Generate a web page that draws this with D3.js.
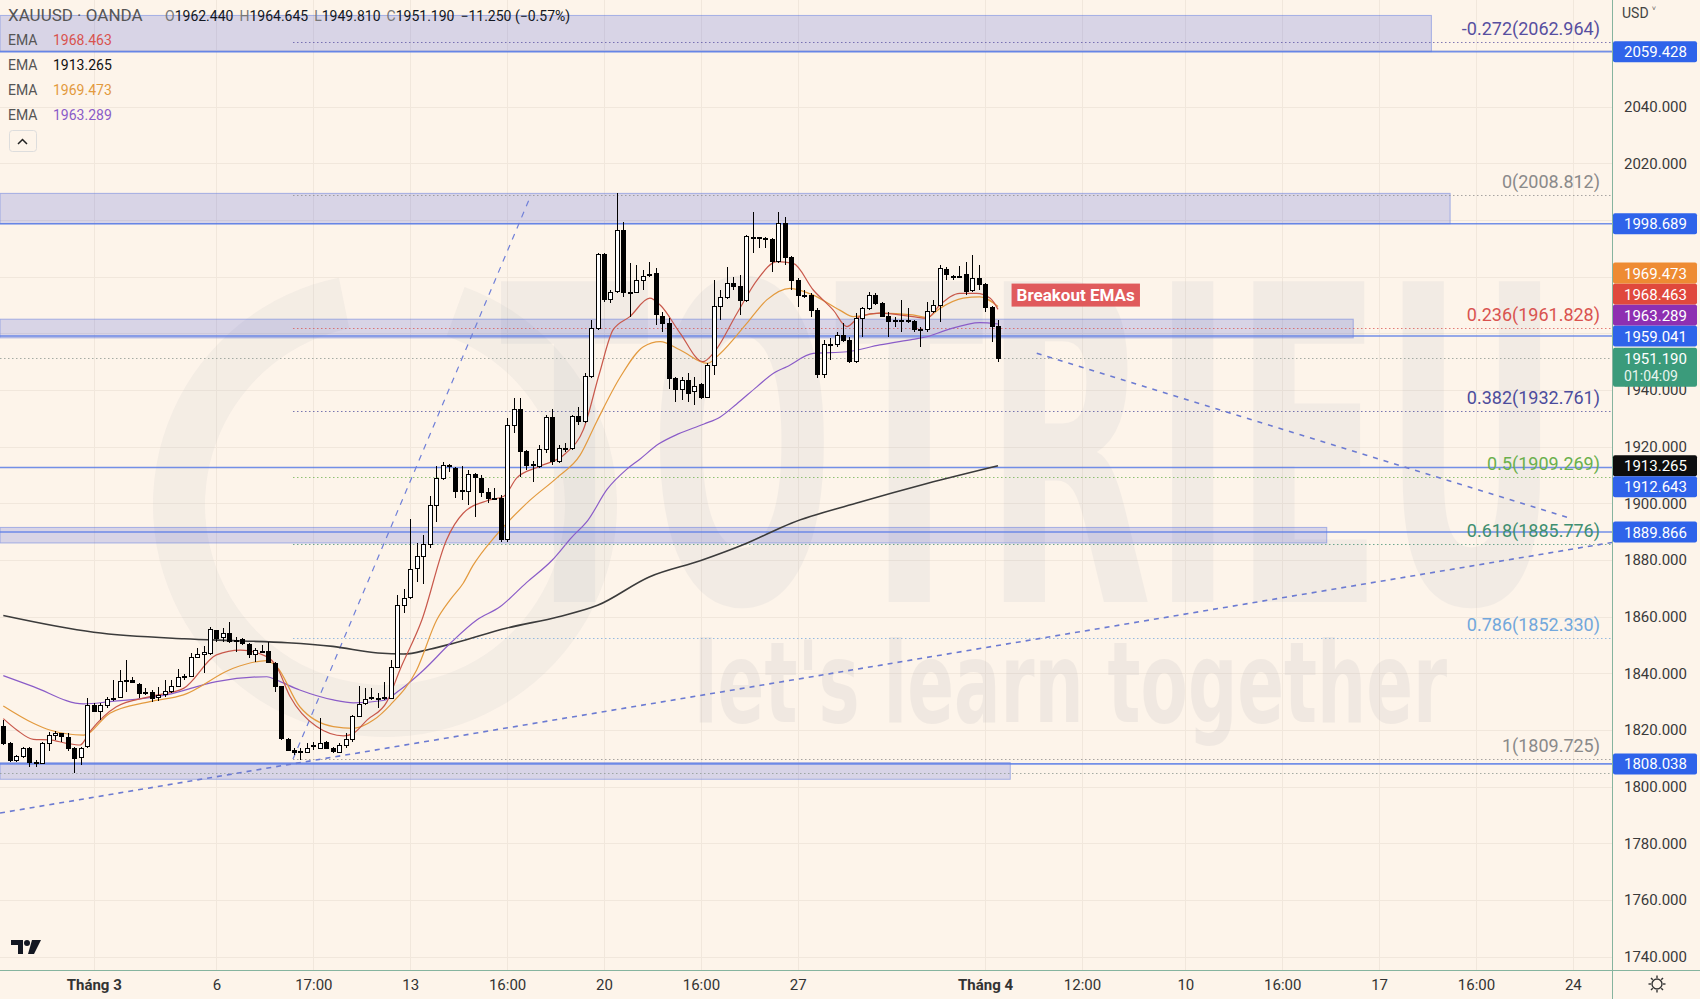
<!DOCTYPE html>
<html><head><meta charset="utf-8">
<script src="https://cdn.jsdelivr.net/npm/d3@7"></script>
<style>
html,body{margin:0;padding:0;background:#fdf4ea;overflow:hidden}
svg{display:block}
text{font-family:Roboto,"Noto Sans",sans-serif}
</style></head><body>
<svg id="c" width="1700" height="999"></svg>
<script>
// ---------------- DATA ----------------
const symbolName = "XAUUSD · OANDA";
const legendKeys = ["O","H","L","C"];
const legendVals = ["1962.440","1964.645","1949.810","1951.190"];
const legendChange = "−11.250 (−0.57%)";

const opens = [1821.2,1815.3,1809.4,1810.6,1813.5,1808.5,1808.3,1815.3,1818.2,1818.6,1817.4,1813.3,1810.4,1814.1,1828.8,1826.5,1828.8,1830.8,1831.5,1837.1,
1837.3,1836.2,1833.3,1833.2,1831.5,1832.4,1833.5,1835.5,1838.5,1838.8,1845.5,1846.8,1847.1,1855.1,1852.7,1854.1,1851.5,1851.8,1850.2,1846.8,
1847.6,1847.6,1843.5,1835.3,1816.8,1812.9,1812.4,1812.0,1814.6,1813.5,1815.5,1813.5,1812.0,1814.7,1816.7,1824.9,1829.2,1831.2,1831.2,1831.2,
1831.2,1842.1,1864.1,1866.8,1877.1,1881.2,1885.3,1899.4,1908.8,1913.0,1912.4,1904.3,1904.3,1910.3,1908.6,1903.9,1901.6,1901.8,1887.1,1927.6,
1933.2,1918.2,1913.3,1912.9,1919.1,1930.4,1914.7,1919.3,1919.4,1930.6,1928.8,1944.7,1961.8,1988.0,1972.1,1974.7,1996.2,1974.4,1974.4,1978.8,
1980.5,1981.2,1966.1,1963.5,1944.1,1940.2,1943.5,1939.3,1941.8,1937.4,1948.8,1969.6,1972.7,1977.6,1976.5,1971.5,1993.9,1993.7,1993.5,1993.2,
1985.3,1998.8,1986.8,1978.8,1973.5,1973.5,1968.2,1945.3,1956.0,1956.2,1959.1,1957.6,1950.0,1965.3,1968.8,1973.5,1970.6,1966.1,1964.5,1964.7,
1964.6,1964.1,1961.2,1961.2,1967.6,1970.0,1982.6,1980.1,1980.0,1980.6,1975.1,1979.4,1977.1,1969.2,1962.44];
const highs = [1823.5,1815.8,1811.2,1814.1,1814.0,1809.4,1815.9,1819.4,1819.8,1818.8,1818.8,1814.1,1814.1,1831.2,1829.4,1829.4,1831.8,1837.6,1841.2,1844.7,
1838.6,1836.5,1834.7,1834.1,1835.3,1837.6,1837.6,1841.4,1839.8,1847.1,1848.8,1849.6,1856.5,1855.3,1855.9,1858.2,1852.9,1852.4,1850.6,1848.8,
1850.0,1851.2,1844.1,1835.5,1817.1,1813.5,1813.5,1815.3,1815.9,1824.1,1816.2,1814.1,1815.3,1818.8,1825.3,1835.5,1834.7,1834.7,1833.2,1837.1,
1844.7,1867.6,1869.6,1894.4,1885.9,1888.8,1902.6,1913.2,1914.7,1913.9,1912.7,1913.2,1911.8,1910.8,1910.0,1905.3,1905.3,1902.9,1930.0,1937.1,
1937.1,1918.8,1915.0,1920.6,1931.2,1933.2,1920.6,1921.2,1931.2,1934.1,1946.1,1964.7,1988.5,1988.5,1975.3,2009.6,1999.4,1984.7,1984.1,1982.4,
1985.3,1982.9,1967.6,1965.3,1944.7,1944.7,1945.9,1944.7,1942.4,1949.4,1978.8,1975.3,1983.3,1980.0,1980.6,1994.7,2002.9,1994.1,1994.1,1993.5,
2002.9,2001.2,1987.3,1979.4,1975.3,1974.1,1968.8,1957.6,1958.2,1960.6,1963.5,1958.8,1967.1,1969.4,1974.7,1974.1,1971.2,1967.6,1965.9,1971.8,
1968.8,1964.7,1962.4,1971.2,1971.8,1984.1,1983.3,1980.6,1983.8,1985.3,1987.6,1984.1,1977.6,1969.6,1964.645];
const lows = [1814.8,1808.8,1808.8,1810.0,1806.8,1807.1,1808.2,1812.7,1816.5,1815.9,1812.7,1804.7,1807.6,1813.5,1826.3,1823.5,1827.6,1830.4,1831.2,1833.5,
1836.5,1831.2,1832.4,1830.0,1830.4,1831.8,1832.9,1835.3,1837.6,1838.6,1845.3,1840.0,1846.5,1851.2,1851.2,1850.6,1847.7,1850.0,1845.3,1844.1,
1847.1,1843.5,1833.5,1816.5,1812.7,1811.2,1809.4,1811.8,1812.9,1813.2,1813.2,1811.8,1811.8,1813.5,1815.9,1824.7,1828.8,1830.6,1827.6,1830.6,
1830.8,1841.8,1861.2,1866.3,1872.4,1871.5,1884.1,1893.5,1908.2,1911.2,1901.8,1901.0,1899.4,1895.3,1902.4,1900.0,1901.2,1886.5,1886.5,1924.7,
1909.4,1911.8,1907.6,1912.4,1917.6,1913.5,1914.1,1918.2,1918.8,1927.6,1928.2,1944.1,1961.2,1971.2,1970.6,1974.1,1972.9,1965.9,1974.1,1975.3,
1980.0,1962.9,1960.6,1940.2,1935.9,1936.5,1935.9,1934.7,1936.8,1937.1,1945.3,1964.7,1972.0,1975.3,1966.5,1971.2,1988.2,1990.0,1990.0,1981.8,
1984.7,1984.1,1975.3,1969.4,1972.4,1965.9,1944.1,1944.1,1950.6,1955.3,1957.1,1949.6,1949.4,1958.8,1968.2,1970.0,1965.9,1958.8,1962.4,1960.6,
1963.5,1960.6,1955.3,1960.6,1967.1,1964.1,1978.8,1978.8,1979.4,1973.5,1974.7,1975.3,1967.6,1957.1,1949.81];
const closes = [1815.3,1809.4,1810.6,1813.5,1808.5,1808.3,1815.3,1818.2,1818.6,1817.6,1813.5,1810.0,1813.5,1828.8,1826.5,1828.8,1830.8,1831.2,1837.1,1837.3,
1836.8,1832.9,1832.9,1831.2,1832.0,1833.5,1835.5,1838.5,1839.0,1845.5,1846.8,1847.3,1855.3,1852.4,1854.1,1851.2,1851.4,1850.4,1846.5,1848.0,
1847.7,1843.8,1835.3,1817.1,1812.9,1812.0,1812.3,1813.5,1814.7,1815.3,1813.5,1812.4,1814.7,1816.7,1824.9,1829.1,1830.6,1831.3,1831.0,1831.5,
1842.1,1864.1,1866.5,1876.7,1881.2,1885.3,1899.4,1908.8,1913.2,1913.3,1904.3,1904.5,1910.0,1909.0,1903.9,1901.8,1901.5,1887.1,1927.6,1933.2,
1918.2,1913.3,1913.6,1919.1,1930.4,1914.7,1919.4,1919.5,1930.8,1928.8,1944.7,1961.8,1988.0,1972.1,1974.5,1996.2,1974.4,1974.3,1978.8,1980.2,
1980.9,1966.5,1963.5,1944.1,1940.2,1943.2,1938.8,1941.4,1937.4,1948.8,1969.6,1972.7,1977.6,1976.5,1971.5,1994.1,1994.0,1993.5,1993.6,1985.3,
1998.8,1986.8,1978.8,1973.5,1973.4,1968.2,1945.3,1955.9,1956.2,1959.4,1957.6,1950.0,1965.3,1968.8,1973.5,1970.6,1966.1,1964.1,1964.7,1964.5,
1964.5,1961.2,1961.1,1967.6,1970.0,1982.9,1980.6,1980.0,1980.2,1974.7,1979.4,1977.1,1969.2,1962.4,1951.19];

// EMA readings [bar index, value]
const emaRed = [[0,1824.0],[2.1,1820.0],[4.65,1816.7],[7.2,1816.5],[9.8,1815.3],[11.9,1814.7],[13.4,1819.4],[17.5,1828.2],[22.7,1831.8],[27.9,1834.7],
[33,1846.5],[36.7,1848.2],[40.8,1845.9],[42.3,1842.4],[44.4,1831.8],[48.5,1821.2],[52.7,1817.9],[54.2,1818.8],[56.3,1823.5],[59.4,1830.0],
[61.4,1841.2],[64.8,1858.8],[68.6,1887.0],[71.2,1896.5],[75,1901.0],[77.5,1902.5],[79.5,1909.0],[83,1913.0],[87,1917.5],[89.8,1926.0],
[92.3,1945.9],[94.4,1961.2],[97,1965.9],[100.1,1972.4],[101.7,1970.0],[104.8,1960.0],[108.3,1950.0],[109.9,1952.9],[113.6,1967.1],[116.7,1978.8],
[119.8,1985.3],[122.3,1984.7],[125.4,1975.3],[128.5,1968.2],[130.6,1962.4],[132.6,1965.9],[135.7,1967.1],[140.8,1965.9],[143,1965.3],[145,1970.0],
[148.1,1974.1],[150.7,1974.1],[152.8,1972.4],[154,1968.463]];
const emaOrange = [[0,1828.5],[4.65,1822.4],[7.2,1820.0],[12.4,1818.2],[16.5,1825.9],[22.7,1830.0],[27.9,1832.4],[35.6,1841.8],[40.8,1844.5],[42.3,1842.4],
[45.9,1828.2],[51.1,1821.2],[54.2,1820.6],[57.3,1823.5],[59.9,1828.8],[64,1841.2],[67.1,1858.8],[69.2,1866.0],[71.2,1871.8],[72.7,1878.0],
[76.4,1889.0],[81.6,1901.2],[85.7,1909.0],[89.3,1917.0],[91.9,1929.0],[95.5,1944.5],[99.1,1955.3],[101.7,1957.1],[104.8,1954.1],[109,1949.4],
[111,1952.9],[115.1,1963.5],[118.2,1971.8],[121.8,1975.9],[125.4,1973.5],[129.5,1968.2],[131.6,1965.9],[135.7,1967.1],[140.8,1966.5],[143,1965.6],
[145,1968.8],[148.6,1972.4],[151.2,1972.9],[154,1969.473]];
const emaPurple = [[0,1839.2],[4.65,1835.3],[12.4,1829.2],[16.5,1830.0],[25.3,1832.4],[33,1837.1],[40.8,1838.8],[42.3,1837.6],[45.9,1834.1],[51.1,1830.6],
[54.2,1829.6],[58.8,1830.4],[61.4,1834.1],[65,1841.0],[69.2,1850.6],[73.3,1858.8],[76.9,1863.5],[81,1872.0],[85,1880.0],[88,1888.0],
[90.5,1894.0],[93.5,1905.0],[96.5,1912.0],[98.5,1915.5],[101.5,1921.0],[104.5,1924.5],[108.5,1928.0],[111,1930.5],[113.5,1935.0],[116.7,1941.2],
[119.3,1946.0],[121.3,1948.2],[125.4,1952.9],[130.6,1953.5],[135.7,1955.9],[140.8,1957.9],[143,1958.8],[146.1,1961.2],[151.2,1963.8],[154,1963.289]];
const emaBlack = [[0,1860.4],[14,1854.5],[28,1852.2],[36,1851.5],[44,1850.8],[51,1849.5],[58,1847.2],[62,1846.8],[66,1848.5],[70,1850.8],
[78,1856.0],[86,1860.0],[92,1864.0],[100,1874.0],[108,1879.8],[115,1885.8],[122,1893.0],[132,1900.0],[143,1907.0],[154,1913.265]];
const emaLegendVals = ["1968.463","1913.265","1969.473","1963.289"];

const priceTicks = [2060,2040,2020,2000,1980,1960,1940,1920,1900,1880,1860,1840,1820,1800,1780,1760,1740];
const timeTicks = [14,33,48,63,78,93,108,123,152,167,183,198,213,228,243];
const timeLabels = ["Tháng 3","6","17:00","13","16:00","20","16:00","27","Tháng 4","12:00","10","16:00","17","16:00","24"];
const boldTimeLabels = ["Tháng 3","Tháng 4"];

// rectangles (price top, price bottom, end bar index)
const zoneTops = [2072.2,2009.4,1965.0,1891.5,1808.5];
const zoneBottoms = [2059.428,1998.689,1958.4,1886.0,1802.6];
const zoneEnds = [221.1,224.0,209.0,204.9,155.9];
// horizontal lines
const levelLines = [2059.428,1998.689,1959.041,1912.643,1889.866,1808.038];
const extraDotted = [1804.7];
// fibonacci
const fibRatios = ["-0.272","0","0.236","0.382","0.5","0.618","0.786","1"];
const fibPrices = [2062.964,2008.812,1961.828,1932.761,1909.269,1885.776,1852.330,1809.725];
const fibStartIdx = 44.85;
const fibEndIdx = 81.7;
// trend lines [idx, price]
const trendUp = [[-0.51,1790.7],[249.06,1886.2]];
const trendDown = [[160.0,1952.97],[242.9,1894.5]];
// label
const noteText = "Breakout EMAs";
const noteIdx = 156.1, notePrice = 1973.5;
// price tags
const lastPrice = 1951.190, countdown = "01:04:09";
const tagPrices = [1951.190,1913.265,2059.428,1998.689,1959.041,1912.643,1889.866,1808.038,1963.289,1968.463,1969.473];
const tagKinds = ["last","ema200","line","line","line","line","line","line","emaPurple","emaRed","emaOrange"];

// ---------------- STYLE ----------------
const W=1700,H=999,PW=1612,PH=970;
const BG="#fdf4ea", GRID="#f1e7dc";
const colRed="#c8584b", colOrange="#e39a3e", colPurple="#8a5cc8", colBlack="#3b3b3b";
const fibColors = ["#574fa0","#8a8a8a","#d9534f","#4c4c9c","#6ab04c","#3f8f70","#72a7dc","#8a8a8a"];
const tagColors = {last:"#3b9b7b",ema200:"#0d0d0d",line:"#2f63ea",emaPurple:"#8e2fb1",emaRed:"#e0483c",emaOrange:"#ee8b33"};

// ---------------- SCALES ----------------
const x = d3.scaleLinear().domain([-0.511,249.06]).range([0,PW]);
const y = d3.scaleLinear().domain([1735.29,2077.65]).range([PH,0]);
const svg = d3.select("#c");
svg.append("rect").attr("width",W).attr("height",H).attr("fill",BG);
svg.append("defs").append("clipPath").attr("id","pc").append("rect").attr("width",PW).attr("height",PH);
const plot = svg.append("g").attr("clip-path","url(#pc)");
const cr = v => Math.round(v)+0.5;

// grid
plot.append("g").selectAll("line").data(priceTicks).join("line")
  .attr("x1",0).attr("x2",PW).attr("y1",d=>cr(y(d))).attr("y2",d=>cr(y(d))).attr("stroke",GRID);
plot.append("g").selectAll("line").data(timeTicks).join("line")
  .attr("y1",0).attr("y2",PH).attr("x1",d=>cr(x(d))).attr("x2",d=>cr(x(d))).attr("stroke",GRID);

// watermark
const wm = plot.append("g").attr("pointer-events","none");
wm.append("path").attr("d",d3.arc()({innerRadius:180,outerRadius:232,startAngle:0.35,endAngle:2*Math.PI-0.2}))
  .attr("transform","translate(385,505)").attr("fill","#9aa3b5").attr("opacity",0.09);
wm.append("text").attr("x",500).attr("y",602).attr("textLength",1060).attr("lengthAdjust","spacingAndGlyphs")
  .attr("font-size",440).attr("font-weight","bold").style("font-family","'DejaVu Sans Condensed','Liberation Sans Narrow',sans-serif")
  .attr("fill","#9aa3b5").attr("opacity",0.1).text("TOTRIEU");
wm.append("text").attr("x",694).attr("y",722).attr("textLength",753).attr("lengthAdjust","spacingAndGlyphs")
  .attr("font-size",112).attr("font-weight","bold").style("font-family","'Liberation Sans Narrow','DejaVu Sans Condensed',sans-serif")
  .attr("fill","#9a9aa5").attr("opacity",0.12).text("let's learn together");

// zones
plot.append("g").selectAll("rect").data(zoneTops).join("rect")
  .attr("x",x(-0.511)).attr("y",(d)=>y(d)).attr("width",(d,i)=>x(zoneEnds[i])-x(-0.511))
  .attr("height",(d,i)=>y(zoneBottoms[i])-y(d))
  .attr("fill","rgba(70,85,215,0.2)").attr("stroke","rgba(80,110,225,0.45)").attr("stroke-width",1);

// fib dotted lines
plot.append("g").selectAll("line").data(fibPrices).join("line")
  .attr("x1",x(fibStartIdx)).attr("x2",PW).attr("y1",d=>cr(y(d))).attr("y2",d=>cr(y(d)))
  .attr("stroke",(d,i)=>fibColors[i]).attr("stroke-opacity",0.75).attr("stroke-dasharray","1.5,2.5");
// extra dotted
plot.append("g").selectAll("line").data(extraDotted.concat([lastPrice])).join("line")
  .attr("x1",0).attr("x2",PW).attr("y1",d=>cr(y(d))).attr("y2",d=>cr(y(d)))
  .attr("stroke","#8f9a92").attr("stroke-opacity",0.8).attr("stroke-dasharray","1.5,2.5");
// solid lines
plot.append("g").selectAll("line").data(levelLines).join("line")
  .attr("x1",0).attr("x2",PW).attr("y1",d=>y(d)).attr("y2",d=>y(d))
  .attr("stroke","#5a7de6").attr("stroke-opacity",0.85).attr("stroke-width",1.6);
// fib labels
svg.append("g").selectAll("text").data(fibPrices).join("text")
  .attr("x",1600).attr("y",d=>y(d)-7).attr("text-anchor","end").attr("font-size",18)
  .attr("fill",(d,i)=>fibColors[i]).text((d,i)=>fibRatios[i]+"("+d.toFixed(3)+")");

// trend lines
const seg = d3.line().x(d=>x(d[0])).y(d=>y(d[1]));
plot.append("path").attr("d",seg([[fibStartIdx,fibPrices[7]],[fibEndIdx,fibPrices[1]]]))
  .attr("stroke","#6f7fd8").attr("stroke-width",1.2).attr("fill","none").attr("stroke-dasharray","6,6");
plot.append("path").attr("d",seg(trendUp))
  .attr("stroke","#6c7bd2").attr("stroke-width",1.6).attr("fill","none").attr("stroke-dasharray","5,5");
plot.append("path").attr("d",seg(trendDown))
  .attr("stroke","#6c7bd2").attr("stroke-width",1.6).attr("fill","none").attr("stroke-dasharray","5,6");

// EMAs
const emaLine = d3.line().x(d=>x(d[0])).y(d=>y(d[1])).curve(d3.curveMonotoneX);
[[emaBlack,colBlack,1.6],[emaPurple,colPurple,1.2],[emaOrange,colOrange,1.2],[emaRed,colRed,1.2]].forEach(([data,c,w])=>{
  plot.append("path").attr("d",emaLine(data)).attr("fill","none").attr("stroke",c).attr("stroke-width",w);
});

// candles
const candles = opens.map((o,i)=>({i,o,h:highs[i],l:lows[i],c:closes[i]}));
const cg = plot.append("g").attr("shape-rendering","crispEdges");
cg.selectAll("line").data(candles).join("line")
  .attr("x1",d=>Math.round(x(d.i))+0.5).attr("x2",d=>Math.round(x(d.i))+0.5)
  .attr("y1",d=>y(d.h)).attr("y2",d=>y(d.l)).attr("stroke","#000").attr("stroke-width",1);
cg.selectAll("rect").data(candles).join("rect")
  .attr("x",d=>Math.round(x(d.i))-1.5).attr("width",4)
  .attr("y",d=>y(Math.max(d.o,d.c))).attr("height",d=>Math.max(1,Math.abs(y(d.o)-y(d.c))))
  .attr("fill",d=>d.c>=d.o?"#fff":"#000").attr("stroke","#000").attr("stroke-width",1);

// note label
const ng = svg.append("g");
const nt = ng.append("text").attr("x",x(noteIdx)+5).attr("y",y(notePrice)+6).attr("font-size",17)
  .attr("font-weight","bold").attr("fill","#fff").text(noteText);
const nb = nt.node().getBBox();
ng.insert("rect","text").attr("x",x(noteIdx)).attr("y",y(notePrice)-11.5).attr("width",nb.width+10).attr("height",23)
  .attr("fill","#de5254").attr("opacity",0.95);

// axes frame
svg.append("line").attr("x1",PW+0.5).attr("x2",PW+0.5).attr("y1",0).attr("y2",H).attr("stroke","#86b49f");
svg.append("line").attr("x1",0).attr("x2",W).attr("y1",PH+0.5).attr("y2",PH+0.5).attr("stroke","#86b49f");

// tags with collision avoidance
const tags = tagPrices.map((p,i)=>({price:p,kind:tagKinds[i]}));
const placed=[];
tags.forEach(t=>{
  t.ty=y(t.price); t.h = t.kind==="last"?39:21; t.top=t.ty-10.5;
  let g=0,moved=true;
  while(moved && g++<30){
    moved=false;
    for(const p of placed){
      if(t.top < p.top+p.h-0.01 && t.top+t.h > p.top+0.01){
        t.top = t.ty < p.ty ? p.top - t.h : p.top + p.h; moved=true;
      }
    }
  }
  placed.push(t);
});

// y axis
const yAxis = d3.axisRight(y).tickValues(priceTicks).tickFormat(d3.format(".3f")).tickSize(0).tickPadding(12);
const ya = svg.append("g").attr("transform",`translate(${PW},0)`).call(yAxis);
ya.select(".domain").remove();
ya.selectAll("text").attr("font-size",15).attr("fill","#3a3a3a").style("font-family","Roboto,'Noto Sans',sans-serif");
ya.selectAll(".tick").filter(d=>placed.some(t=>y(d)>=t.top && y(d)<=t.top+t.h)).remove();

// draw tags
const tg = svg.append("g");
placed.forEach(t=>{
  tg.append("rect").attr("x",PW+1).attr("y",t.top).attr("width",84).attr("height",t.h).attr("rx",2)
    .attr("fill",tagColors[t.kind]);
  tg.append("text").attr("x",1624).attr("y",t.top+16).attr("font-size",15).attr("fill","#fff").text(t.price.toFixed(3));
  if(t.kind==="last") tg.append("text").attr("x",1624).attr("y",t.top+33).attr("font-size",14).attr("fill","#e8f5ef").text(countdown);
});
svg.append("text").attr("x",1622).attr("y",18).attr("font-size",14).attr("fill","#444").text("USD ˅");

// time axis
const xAxis = d3.axisBottom(x).tickValues(timeTicks).tickFormat((d,i)=>timeLabels[i]).tickSize(0).tickPadding(9);
const xa = svg.append("g").attr("transform",`translate(0,${PH})`).call(xAxis);
xa.select(".domain").remove();
xa.selectAll("text").attr("font-size",15).attr("fill","#333").style("font-family","Roboto,'Noto Sans',sans-serif")
  .attr("font-weight",(d,i)=>boldTimeLabels.includes(timeLabels[i])?"bold":"normal");

// gear icon
const gear = svg.append("g").attr("transform","translate(1657,984)").attr("stroke","#333").attr("fill","none").attr("stroke-width",1.4);
gear.append("circle").attr("r",5);
d3.range(8).forEach(k=>{const a=k*Math.PI/4;gear.append("line").attr("x1",6*Math.cos(a)).attr("y1",6*Math.sin(a)).attr("x2",8.5*Math.cos(a)).attr("y2",8.5*Math.sin(a));});

// TV logo
const tv = svg.append("g").attr("fill","#131722");
tv.append("path").attr("d","M11 940 h12 v14 h-5 v-9 h-7 z");
tv.append("circle").attr("cx",27).attr("cy",943).attr("r",3);
tv.append("path").attr("d","M32 940 h9 l-7 14 h-6 z");

// legend
const lg = svg.append("g");
lg.append("text").attr("x",8).attr("y",21).attr("font-size",17).attr("fill","#555").text(symbolName);
const hdr2 = lg.append("text").attr("x",165).attr("y",21).attr("font-size",14);
legendKeys.forEach((k,i)=>{
  hdr2.append("tspan").attr("fill","#777").attr("dx",i?6:0).text(k);
  hdr2.append("tspan").attr("fill","#131722").text(legendVals[i]);
});
hdr2.append("tspan").attr("fill","#131722").attr("dx",6).text(legendChange);
const emaCols=["#d9534f","#111",colOrange,colPurple];
emaLegendVals.forEach((v,i)=>{
  lg.append("text").attr("x",8).attr("y",45+i*25).attr("font-size",14).attr("fill","#555").text("EMA");
  lg.append("text").attr("x",53).attr("y",45+i*25).attr("font-size",14).attr("fill",emaCols[i]).text(v);
});
lg.append("rect").attr("x",9.5).attr("y",130.5).attr("width",27).attr("height",21).attr("rx",3)
  .attr("fill","#fdf4ea").attr("stroke","#ddd");
lg.append("path").attr("d","M18 144 l4.5 -4.5 l4.5 4.5").attr("stroke","#222").attr("stroke-width",1.5).attr("fill","none");
</script>
</body></html>
